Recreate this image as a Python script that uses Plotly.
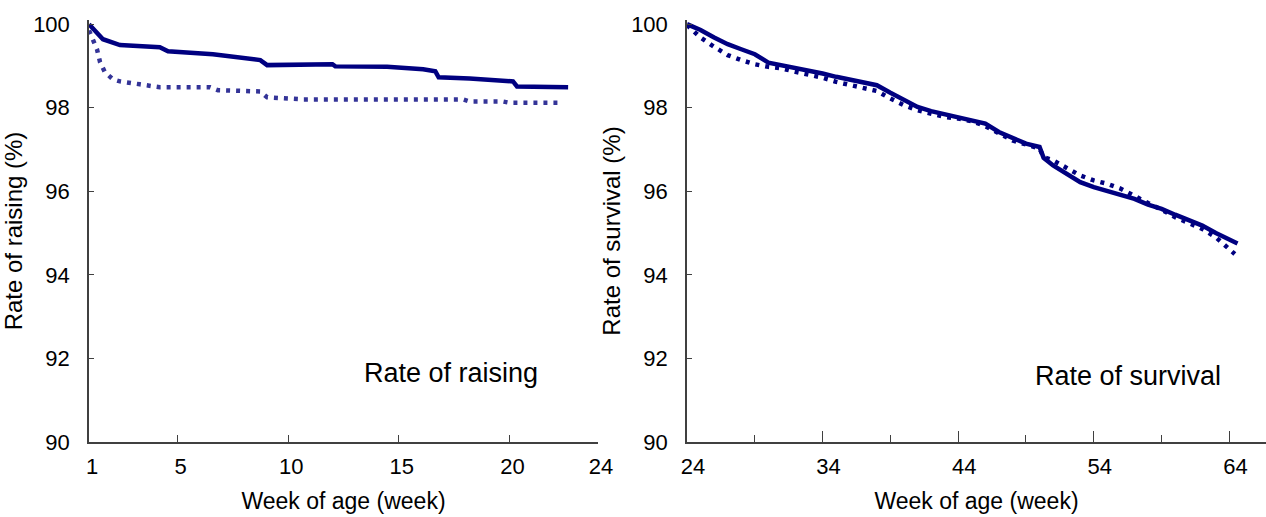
import plotly.graph_objects as go

# ---- Rate of raising (weeks 1-24) ----
raising_solid_week = [1, 1.36, 1.63, 2.4, 4.2, 4.57, 6.6, 8.74, 9.05, 12.0, 12.13, 14.47,
                      16.1, 16.65, 16.8, 18.2, 19.1, 20.16, 20.34, 22.65]
raising_solid_rate = [100, 99.8, 99.64, 99.5, 99.45, 99.35, 99.28, 99.14, 99.02, 99.04, 98.99, 98.98,
                      98.92, 98.87, 98.73, 98.70, 98.66, 98.63, 98.51, 98.49]

raising_dot_week = [1, 1.36, 1.5, 1.72, 2.08, 2.4, 3.3, 4.2, 6.47, 6.83, 8.74, 9.05,
                    10.67, 17.9, 18.2, 19.7, 20.0, 22.4]
raising_dot_rate = [99.85, 99.4, 99.09, 98.85, 98.68, 98.63, 98.56, 98.49, 98.49, 98.42, 98.39, 98.25,
                    98.2, 98.2, 98.15, 98.15, 98.12, 98.12]

# ---- Rate of survival (weeks 24-65) ----
survival_solid_week = [24, 25, 26, 27, 28, 29, 30, 31, 32, 33, 34, 35, 36, 37, 38, 39, 40, 41, 42, 43,
                       44, 45, 46, 47, 48, 49, 50, 50.3, 51, 52, 53, 54, 55, 56, 57, 58, 59, 60, 61,
                       62, 63, 64, 64.6]
survival_solid_rate = [100.0, 99.86, 99.68, 99.52, 99.40, 99.28, 99.08, 99.02, 98.96, 98.88, 98.82,
                       98.74, 98.68, 98.62, 98.54, 98.36, 98.18, 98.02, 97.92, 97.84, 97.78, 97.70,
                       97.62, 97.42, 97.28, 97.14, 97.06, 96.80, 96.62, 96.42, 96.22, 96.10, 96.00,
                       95.92, 95.82, 95.68, 95.58, 95.44, 95.30, 95.18, 95.00, 94.84, 94.75]

survival_dot_week = [24, 25, 26, 27, 28, 29, 30, 31, 32, 33, 34, 35, 36, 37, 38, 39, 40, 41, 42, 43,
                     44, 45, 46, 47, 48, 49, 50, 50.3, 51, 52, 53, 54, 55, 56, 57, 58, 59, 60, 61,
                     62, 63, 64, 64.4]
survival_dot_rate = [99.98, 99.68, 99.46, 99.26, 99.14, 99.04, 98.98, 98.94, 98.86, 98.80, 98.72,
                     98.62, 98.54, 98.48, 98.40, 98.22, 98.06, 97.94, 97.86, 97.78, 97.74, 97.68,
                     97.56, 97.38, 97.22, 97.12, 97.02, 96.82, 96.74, 96.56, 96.38, 96.26, 96.18,
                     96.06, 95.88, 95.72, 95.56, 95.38, 95.24, 95.10, 94.90, 94.62, 94.50]

y_ticks = [90, 92, 94, 96, 98, 100]
raising_x_ticks = [1, 5, 10, 15, 20, 24]
survival_x_ticks = [24, 34, 44, 54, 64]

NAVY = "#000080"
DOT_BLUE = "#343498"
FONT = "Liberation Sans, Arial, sans-serif"
W, H = 1266, 517

fig = go.Figure()

fig.add_trace(go.Scatter(x=raising_solid_week, y=raising_solid_rate, mode="lines",
                         line=dict(color=NAVY, width=4.5), xaxis="x", yaxis="y",
                         showlegend=False, hoverinfo="skip"))
fig.add_trace(go.Scatter(x=raising_dot_week, y=raising_dot_rate, mode="lines",
                         line=dict(color=DOT_BLUE, width=4.5, dash="4px,6px"), xaxis="x", yaxis="y",
                         showlegend=False, hoverinfo="skip"))
fig.add_trace(go.Scatter(x=survival_dot_week, y=survival_dot_rate, mode="lines",
                         line=dict(color=NAVY, width=4.5, dash="4px,6px"), xaxis="x2", yaxis="y2",
                         showlegend=False, hoverinfo="skip"))
fig.add_trace(go.Scatter(x=survival_solid_week, y=survival_solid_rate, mode="lines",
                         line=dict(color=NAVY, width=4.5), xaxis="x2", yaxis="y2",
                         showlegend=False, hoverinfo="skip"))

axis_common = dict(showgrid=False, zeroline=False, showline=True, linecolor="#404040",
                   linewidth=1.5, ticks="inside", tickcolor="#404040", tickwidth=1,
                   automargin=False,
                   tickfont=dict(family=FONT, size=22, color="black"))

y_bottom = (H - 442) / H
y_top = (H - 20) / H

fig.update_layout(
    template="none",
    width=W, height=H,
    margin=dict(l=0, r=0, t=0, b=0, pad=0),
    paper_bgcolor="white", plot_bgcolor="white",
    font=dict(family=FONT, color="black"),
    xaxis=dict(axis_common, domain=[89 / W, 598 / W], range=[1, 24],
               tickvals=raising_x_ticks, ticklen=7, anchor="y",
               ticklabelstandoff=4, ticklabelshift=3,
               title=dict(text="Week of age (week)", font=dict(size=23, family=FONT), standoff=15)),
    yaxis=dict(axis_common, domain=[y_bottom, y_top], range=[90, 100.1],
               tickvals=y_ticks, ticklen=5, anchor="x", ticklabelstandoff=13,
               title=dict(text="Rate of raising (%)", font=dict(size=24, family=FONT), standoff=4)),
    xaxis2=dict(axis_common, domain=[687 / W, 1.0], range=[24, 66.7],
                tickvals=survival_x_ticks, ticklen=11, anchor="y2",
                ticklabelstandoff=4, ticklabelshift=6,
                minor=dict(tickvals=[29, 39, 49, 59], ticks="inside", ticklen=7,
                           tickcolor="#404040", tickwidth=1),
                title=dict(text="Week of age (week)", font=dict(size=23, family=FONT), standoff=15)),
    yaxis2=dict(axis_common, domain=[y_bottom, y_top], range=[90, 100.1],
                tickvals=y_ticks, ticklen=5, anchor="x2", ticklabelstandoff=13,
                title=dict(text="Rate of survival (%)", font=dict(size=24, family=FONT), standoff=4)),
    annotations=[
        dict(text="Rate of raising", x=451 / W, y=(H - 373) / H, xref="paper", yref="paper",
             showarrow=False, font=dict(size=27, family=FONT, color="black"),
             xanchor="center", yanchor="middle"),
        dict(text="Rate of survival", x=1128 / W, y=(H - 376) / H, xref="paper", yref="paper",
             showarrow=False, font=dict(size=27, family=FONT, color="black"),
             xanchor="center", yanchor="middle"),
    ],
)

fig.write_html("out.html", post_script="document.body.style.margin='0';")
